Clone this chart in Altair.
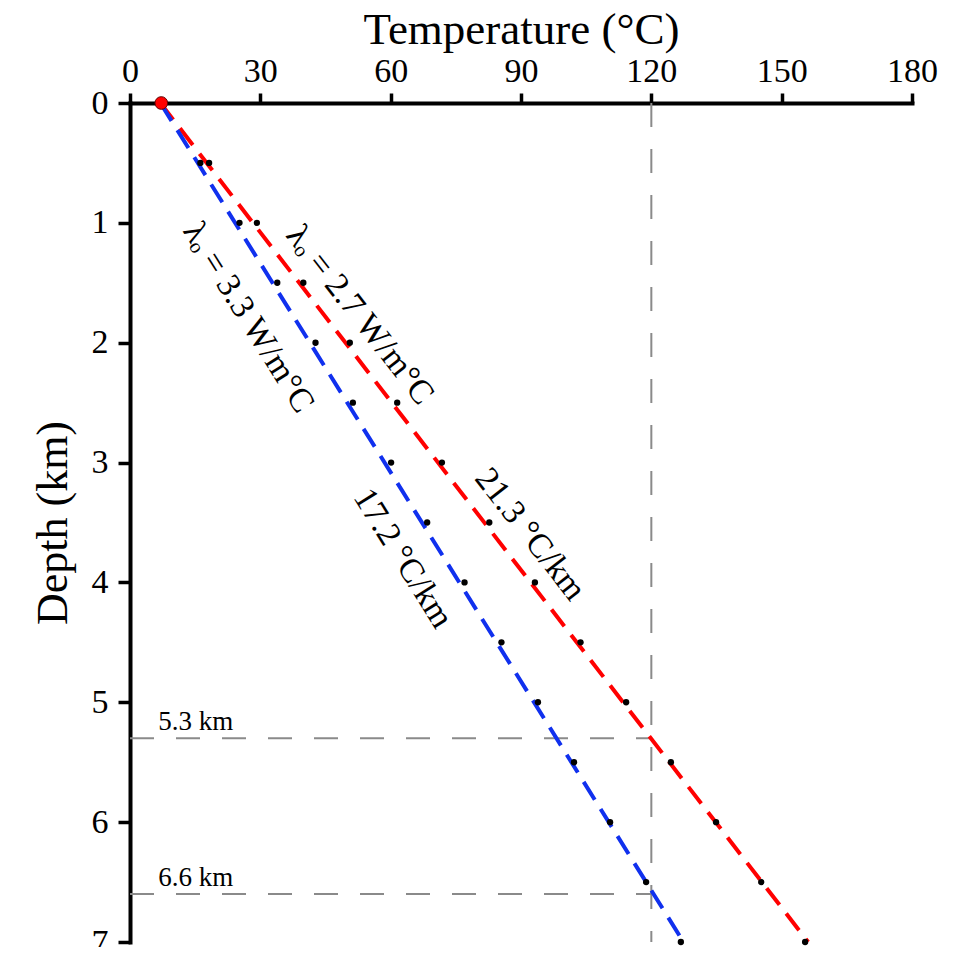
import altair as alt
import pandas as pd

# ---- data ----
depth_pts = [0.5, 1.0, 1.5, 2.0, 2.5, 3.0, 3.5, 4.0, 4.5, 5.0, 5.5, 6.0, 6.5, 7.0]
red_pts_T = [18.2, 29.2, 39.9, 50.6, 61.5, 71.8, 82.7, 93.2, 103.7, 114.2, 124.5, 134.9, 145.3, 155.4]
blue_pts_T = [16.2, 25.2, 33.9, 42.7, 51.3, 60.1, 68.4, 77.0, 85.5, 93.9, 102.2, 110.5, 118.8, 126.8]

line_depth = [0.0, 7.0]
red_line_T = [7.0, 156.1]
blue_line_T = [7.0, 127.4]

surface_T = [7.2]
surface_D = [0.0]

threshold_T = 120
ref_depths = [5.3, 6.6]
ref_labels = ["5.3 km", "6.6 km"]

x_ticks = [0, 30, 60, 90, 120, 150, 180]
y_ticks = [0, 1, 2, 3, 4, 5, 6, 7]

FONT = "Liberation Serif"

xscale = alt.Scale(domain=[0, 180], nice=False, zero=False)
yscale = alt.Scale(domain=[0, 7], nice=False, zero=False, reverse=True)

xaxis = alt.Axis(orient="top", values=x_ticks, title="Temperature (°C)", grid=False,
                 tickSize=10, labelPadding=5, titlePadding=2, labelFlush=False,
                 labelFontSize=34, titleFontSize=45)
yaxis = alt.Axis(orient="left", values=y_ticks, title="Depth (km)", grid=False,
                 tickSize=12, labelPadding=10, titlePadding=16, labelFlush=False,
                 labelFontSize=34, titleFontSize=44)


def X(field="T"):
    return alt.X(f"{field}:Q", scale=xscale, axis=xaxis)


def Y(field="D"):
    return alt.Y(f"{field}:Q", scale=yscale, axis=yaxis)


GREY = "#8a8a8a"
RED = "#ff0000"
BLUE = "#1030ee"

# reference lines
vline_df = pd.DataFrame({"T": [threshold_T], "D": [0.0], "D2": [7.0]})
vline = alt.Chart(vline_df).mark_rule(color=GREY, strokeWidth=2, strokeDash=[24, 22]).encode(
    x=X(), y=Y(), y2="D2:Q")

hline_df = pd.DataFrame({"T": [0.0] * len(ref_depths), "T2": [threshold_T] * len(ref_depths),
                         "D": ref_depths, "label": ref_labels})
hline = alt.Chart(hline_df).mark_rule(color=GREY, strokeWidth=2, strokeDash=[24, 22]).encode(
    x=X(), x2="T2:Q", y=Y())

hlabel_df = pd.DataFrame({"T": [6.5] * len(ref_depths), "D": ref_depths, "label": ref_labels})
hlabel = alt.Chart(hlabel_df).mark_text(font=FONT, fontSize=27, align="left", baseline="bottom",
                                        dy=-2, color="black").encode(
    x=X(), y=Y(), text="label:N")

# model lines
red_df = pd.DataFrame({"T": red_line_T, "D": line_depth})
blue_df = pd.DataFrame({"T": blue_line_T, "D": line_depth})
red_line = alt.Chart(red_df).mark_line(color=RED, strokeWidth=4, strokeDash=[21, 11]).encode(
    x=X(), y=Y(), order="D:Q")
blue_line = alt.Chart(blue_df).mark_line(color=BLUE, strokeWidth=4, strokeDash=[21, 11]).encode(
    x=X(), y=Y(), order="D:Q")

# measured points
pts_df = pd.DataFrame({"T": red_pts_T + blue_pts_T, "D": depth_pts + depth_pts})
pts = alt.Chart(pts_df).mark_circle(color="black", size=40, opacity=1).encode(x=X(), y=Y())

surf_df = pd.DataFrame({"T": surface_T, "D": surface_D})
surf = alt.Chart(surf_df).mark_point(filled=True, fill=RED, stroke="#600000", strokeWidth=1,
                                     size=160, opacity=1, shape="circle").encode(x=X(), y=Y())


def rot_text(T, D, txt, angle):
    df = pd.DataFrame({"T": [T], "D": [D], "txt": [txt]})
    return alt.Chart(df).mark_text(font=FONT, fontSize=34, angle=angle, align="center",
                                   baseline="middle", color="black").encode(
        x=X(), y=Y(), text="txt:N")


t1 = rot_text(52.9, 1.77, "λₒ = 2.7 W/m°C", 52)
t2 = rot_text(27.2, 1.79, "λₒ = 3.3 W/m°C", 58)
t3 = rot_text(92.1, 3.60, "21.3 °C/km", 52)
t4 = rot_text(62.8, 3.80, "17.2 °C/km", 58)

chart = alt.layer(vline, hline, hlabel, red_line, blue_line, pts, surf, t1, t2, t3, t4).properties(
    width=782, height=839,
    padding={"left": 122, "top": 95, "right": 40, "bottom": 5},
    autosize=alt.AutoSizeParams(type="none"),
).configure_view(stroke=None).configure_axis(
    labelFont=FONT, titleFont=FONT, labelFontSize=34, titleFontSize=45,
    titleFontWeight="normal", labelColor="black", titleColor="black",
    domainColor="black", tickColor="black", domainWidth=4, tickWidth=3.5,
    domainCap="square",
)

chart.save("out.html", embed_options={"renderer": "svg", "actions": False})
